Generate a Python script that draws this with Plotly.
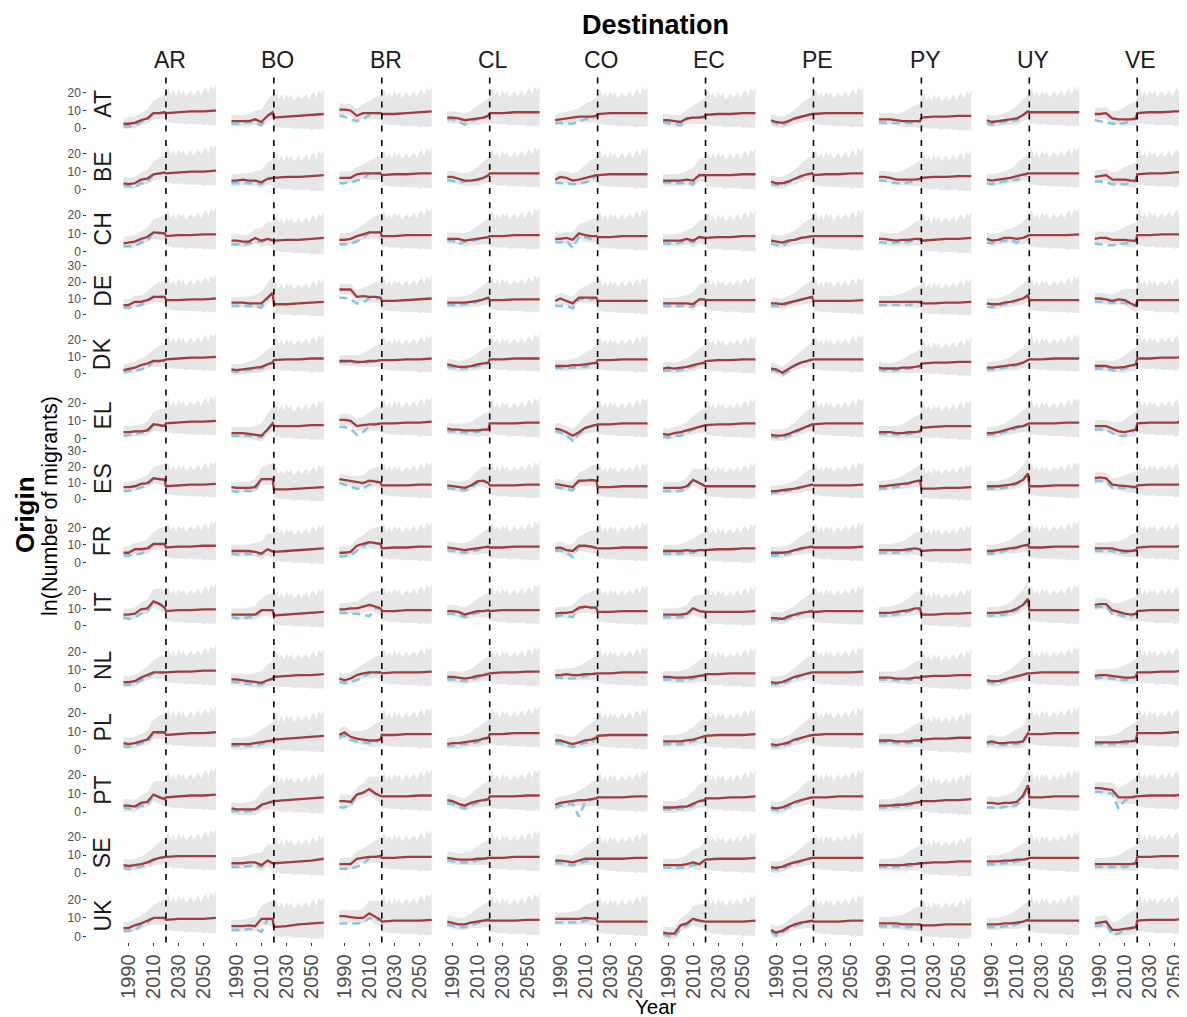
"""Observed vs fitted bilateral migration flows, Europe -> South America.

Facet grid: one row per origin, one column per destination; grey band is
the prediction interval, dashed vertical line marks the start of the
forecast period.
"""
import plotly.graph_objects as go

ORIGINS = ["AT", "BE", "CH", "DE", "DK", "EL", "ES", "FR", "IT", "NL", "PL", "PT", "SE", "UK"]
DESTINATIONS = ["AR", "BO", "BR", "CL", "CO", "EC", "PE", "PY", "UY", "VE"]

FIT_YEARS = [1986, 1990, 1995, 2000, 2005, 2010, 2015, 2019, 2020, 2030, 2040, 2050, 2060]
OBS_YEARS = [1986, 1990, 1995, 2000, 2005, 2010, 2015, 2019]
FORECAST_START = 2020
X_TICKS = [1990, 2010, 2030, 2050]

# interval band: half-widths around the fit up to 2019
BAND_UP = [3.5, 3.5, 3.5, 4, 5, 7, 9, 10]
BAND_DN = [3, 3, 3, 3, 3, 3.5, 3.5, 4]
# forecast part of the band, relative to each panel's 2040 level (spiky edge)
BAND_FUT_YEARS = [2020, 2022, 2024, 2026, 2028, 2030, 2032, 2034, 2036, 2038, 2040,
                  2042, 2044, 2046, 2048, 2050, 2052, 2054, 2056, 2058, 2060]
BAND_FUT_UP = [11, 13.5, 9, 12, 8.5, 12.5, 10, 12, 8.5, 10, 12,
               9, 11, 12.5, 9, 12, 13.5, 10, 14.5, 12.5, 15]
BAND_FUT_DN = [6, 6.5, 6, 7, 6.5, 7, 6.5, 7, 7.5, 7, 7,
               7.5, 7, 7.5, 7, 8, 7.5, 7.5, 8, 7.5, 8]

# fitted (red) and observed (blue) ln(migrants), one list per destination
AT_FIT = [[2.5, 2.5, 3, 4.5, 5.5, 8.5, 8.5, 9, 8.5, 9, 9.5, 9.5, 10],
          [4, 4, 4, 4, 5, 3.5, 7, 9, 6, 6.5, 7, 7.5, 8],
          [10.5, 10.5, 10, 7, 8.5, 8.5, 8.5, 8.5, 8, 8, 8.5, 9, 9.5],
          [6, 6, 5.5, 4.5, 5, 5.5, 6, 7, 8.5, 8.5, 9, 9, 9],
          [4.5, 5, 5.5, 6, 6.5, 6.5, 6.5, 7, 8, 8.5, 8.5, 8.5, 8.5],
          [4.5, 4.5, 4, 3.5, 5.5, 6, 6, 6.5, 7.5, 8, 8, 8.5, 8.5],
          [4.5, 3.5, 3, 4, 5.5, 6.5, 7.5, 8, 8, 8.5, 8.5, 8.5, 8.5],
          [5, 5, 5, 4.5, 4, 4, 4, 4, 6, 6.5, 6.5, 7, 7],
          [4.5, 3.5, 4, 4.5, 5, 5.5, 7.5, 9.5, 9, 9, 9, 9, 9],
          [8, 8, 8.5, 5.5, 5, 5, 5, 5.5, 8.5, 9, 9, 9.5, 9.5]]
AT_OBS = [[1, 1, 1.5, 3.5, 4.5, 8.5, 8.5, 9], [2.5, 2.5, 3, 3.5, 3, 2, 7, 9],
          [7, 6.5, 5, 4, 5, 7.5, 8.5, 8.5], [5, 5, 4, 2, 4, 5, 6, 7],
          [3, 3, 2.5, 2.5, 4, 5, 5, 7], [3.5, 3, 3, 1.5, 5, 6, 6, 6.5],
          [4, 2.5, 1.5, 3.5, 5, 6.5, 7.5, 8], [3.5, 3, 3, 3, 3, 3, 3, 4],
          [3, 2, 3, 3.5, 4, 4.5, 7.5, 9.5], [4.5, 4, 3.5, 2.5, 2.5, 3, 4, 5.5]]

BE_FIT = [[3.5, 3, 3.5, 5.5, 6, 8.5, 9, 9.5, 9, 9.5, 10, 10, 10.5],
          [5, 5, 5.5, 5, 5, 4, 6, 6.5, 6.5, 7, 7, 7.5, 8],
          [6.5, 6.5, 6.5, 8.5, 9, 9, 9, 9, 8, 8.5, 8.5, 9, 9],
          [7, 7, 6, 5, 5, 5.5, 6.5, 8, 9, 9, 9, 9, 9],
          [5.5, 7, 6.5, 5, 5.5, 6.5, 7.5, 8, 8, 8.5, 8.5, 8.5, 8.5],
          [5, 5, 5, 5, 5.5, 5, 8, 8, 8, 8, 8, 8.5, 8.5],
          [4.5, 3.5, 3.5, 4.5, 6, 7.5, 8.5, 9, 8, 8.5, 8.5, 9, 9],
          [7, 7, 6.5, 5.5, 5.5, 5.5, 5.5, 6, 6.5, 7, 7, 7.5, 7.5],
          [5.5, 5, 5.5, 6, 6.5, 7.5, 8.5, 9, 9, 9, 9, 9, 9],
          [7, 7.5, 8, 5.5, 5.5, 5.5, 5, 5, 8.5, 9, 9, 9.5, 10]]
BE_OBS = [[2, 2, 1.5, 3.5, 4, 8.5, 9, 9.5], [3.5, 3.5, 3.5, 3.5, 3.5, 3, 6, 6.5],
          [3.5, 3.5, 4, 5, 6, 9, 9, 9], [5.5, 5, 4, 4.5, 5, 5.5, 6.5, 8],
          [4, 3.5, 3.5, 3, 3.5, 4, 5, 8], [4, 4, 3.5, 3.5, 4, 3, 8, 8],
          [3, 2.5, 2.5, 4, 5.5, 7, 8.5, 9], [5, 5, 4, 3.5, 3.5, 4, 4.5, 6],
          [3.5, 3, 4, 4.5, 5, 5.5, 7, 9], [4.5, 4.5, 4, 3, 3, 3, 3.5, 5]]

CH_FIT = [[4.5, 5, 5.5, 7, 8, 10.5, 10, 10, 8.5, 9, 9, 9.5, 9.5],
          [6, 6, 5.5, 5.5, 7.5, 6, 7, 6, 6, 6.5, 6.5, 7, 7.5],
          [6.5, 6.5, 7, 8.5, 9.5, 10.5, 10.5, 10.5, 8.5, 8.5, 9, 9, 9],
          [7, 7, 7, 6, 6.5, 7, 7.5, 8, 8.5, 8.5, 9, 9, 9],
          [7, 7, 7.5, 6.5, 10, 9, 8.5, 8.5, 8, 8, 8.5, 8.5, 8.5],
          [6, 6, 6, 6, 7, 6, 8, 7.5, 7.5, 8, 8, 8.5, 8.5],
          [6, 5.5, 5, 6, 6.5, 7.5, 8, 8.5, 8.5, 8.5, 8.5, 8.5, 8.5],
          [7, 7, 6.5, 6, 6.5, 6.5, 7, 7, 6, 6.5, 7, 7, 7.5],
          [7, 6, 6.5, 7.5, 7.5, 7, 7.5, 9, 9, 9, 9, 9, 9.5],
          [7, 7.5, 7.5, 6.5, 6.5, 6.5, 6, 6, 9, 9, 9.5, 9.5, 9.5]]
CH_OBS = [[3, 3, 3, 5, 6, 10.5, 10, 10], [4, 4, 4, 4.5, 5.5, 5.5, 6.5, 6],
          [4, 4, 4.5, 5.5, 7.5, 10.5, 10.5, 10.5], [6, 6, 4, 5.5, 6, 6.5, 7.5, 8],
          [5.5, 5, 6, 2, 8, 8, 7, 8.5], [4.5, 4.5, 4.5, 5, 6, 5, 7.5, 7.5],
          [4.5, 4, 3, 5.5, 6.5, 7.5, 8, 8.5], [5, 5, 4.5, 5, 5, 5.5, 6, 7],
          [5, 4.5, 5.5, 6, 6.5, 5, 7, 9], [4.5, 4, 3.5, 3.5, 4, 4.5, 5, 6]]

DE_FIT = [[6, 6, 8, 8, 9, 11, 11, 11, 9, 9, 9.5, 9.5, 10],
          [7.5, 7.5, 7.5, 7, 7, 7, 10.5, 13.5, 6.5, 6.5, 7, 7.5, 8],
          [15.5, 15.5, 15.5, 11, 11.5, 11, 11, 10.5, 8.5, 8.5, 9, 9.5, 10],
          [7.5, 7.5, 7.5, 7.5, 8, 8.5, 9.5, 10.5, 9, 9, 9.5, 9.5, 9.5],
          [8.5, 10, 8.5, 7, 10.5, 10.5, 10.5, 10.5, 8.5, 8.5, 8.5, 8.5, 8.5],
          [7, 7, 7, 7, 7, 6.5, 9.5, 9.5, 9, 9, 9, 9, 9],
          [7, 7, 6.5, 7.5, 8.5, 9.5, 10.5, 11, 8.5, 8.5, 8.5, 8.5, 9],
          [8, 8, 8, 8, 8, 8, 8, 8, 7, 7, 7.5, 7.5, 8],
          [7, 6.5, 6.5, 7.5, 8, 9, 10, 12, 9, 9, 9, 9, 9],
          [10, 10, 9.5, 8.5, 9.5, 9, 7, 5.5, 9, 9, 9, 9, 9]]
DE_OBS = [[4.5, 4.5, 5, 6, 8, 11, 11, 11], [5.5, 5.5, 5.5, 5.5, 5.5, 4.5, 10, 13.5],
          [10.5, 10.5, 9.5, 7, 7.5, 10, 10, 10.5], [6, 6, 6, 6.5, 7, 8, 9.5, 10.5],
          [5.5, 5.5, 5.5, 4, 9.5, 10, 9.5, 10.5], [5.5, 5.5, 5.5, 5.5, 6, 5, 9, 9.5],
          [5.5, 5.5, 5.5, 7, 8, 9.5, 10.5, 11], [6, 6, 6, 6, 6, 6, 6.5, 8],
          [5, 4.5, 5.5, 6.5, 7, 8.5, 10, 12], [8, 8, 8, 7.5, 7.5, 7.5, 6, 5.5]]

DK_FIT = [[2, 2.5, 3.5, 5, 6, 7.5, 7.5, 8, 8.5, 9, 9.5, 9.5, 10],
          [2.5, 2, 2.5, 3, 3.5, 4, 5.5, 6.5, 8, 8.5, 8.5, 9, 9],
          [7.5, 7.5, 7.5, 7, 7, 7.5, 7.5, 8, 8, 8, 8.5, 8.5, 9],
          [5.5, 5, 4, 4, 4.5, 5.5, 6, 6.5, 8.5, 8.5, 9, 9, 9],
          [4.5, 4.5, 4.5, 5, 5, 5.5, 6, 6.5, 8, 8, 8.5, 8.5, 8.5],
          [3, 3.5, 3, 3.5, 4, 5, 6, 6.5, 7.5, 8, 8, 8.5, 8.5],
          [3, 2.5, 0.5, 3, 5, 6.5, 7.5, 8.5, 8.5, 8.5, 8.5, 8.5, 8.5],
          [3.5, 3, 3, 3, 3.5, 3.5, 4, 4.5, 6, 6.5, 6.5, 7, 7],
          [3.5, 3.5, 4, 4.5, 5, 5.5, 6.5, 8, 8.5, 8.5, 9, 9, 9],
          [4.5, 4.5, 4.5, 3.5, 3.5, 4, 5, 5.5, 9, 9, 9.5, 9.5, 10]]
DK_OBS = [[1, 1.5, 1.5, 2.5, 3.5, 7.5, 7.5, 8], [1.5, 1, 1.5, 2, 2.5, 3, 5, 6.5],
          [7, 7, 7, 6.5, 6.5, 7, 7.5, 8], [4, 4, 3, 3, 3.5, 4.5, 5, 6.5],
          [3.5, 3.5, 3.5, 3.5, 4, 4, 5, 6.5], [1.5, 2, 1.5, 2, 3, 4, 5.5, 6.5],
          [2, 1.5, -1, 2, 4.5, 6.5, 7.5, 8.5], [2.5, 2, 2, 2, 2.5, 3, 3.5, 4.5],
          [2.5, 2.5, 3, 3.5, 4, 5, 6.5, 8], [3, 3, 3, 2, 2, 3, 4, 5.5]]

EL_FIT = [[3.5, 3.5, 4, 4, 4.5, 8, 7.5, 7, 8.5, 9, 9.5, 9.5, 10],
          [3, 3, 3, 2.5, 2, 1.5, 5, 8.5, 7, 7, 7, 7.5, 7.5],
          [10.5, 10.5, 10, 7, 7.5, 8, 8, 8.5, 8.5, 8.5, 9, 9, 9.5],
          [5.5, 5, 5, 4.5, 4.5, 4.5, 5, 5, 8.5, 8.5, 8.5, 9, 9],
          [5.5, 5, 3.5, 1.5, 3.5, 6, 7, 7.5, 8, 8, 8.5, 8.5, 8.5],
          [2.5, 2, 3, 3.5, 4.5, 5.5, 6.5, 7, 7.5, 8, 8, 8.5, 8.5],
          [2, 1.5, 1.5, 2.5, 4, 5.5, 7, 8, 8, 8.5, 8.5, 8.5, 8.5],
          [3.5, 3.5, 3.5, 3, 3, 3.5, 3.5, 4, 6, 6.5, 7, 7, 7],
          [3, 3, 3.5, 4.5, 5.5, 6.5, 7, 8, 8.5, 8.5, 8.5, 9, 9],
          [7, 7, 7, 5.5, 4, 3.5, 4.5, 5, 8.5, 9, 9, 9, 9.5]]
EL_OBS = [[1.5, 2, 2, 3.5, 3, 8, 7.5, 7], [1.5, 1.5, 1.5, 1.5, 1, 0.5, 5, 8.5],
          [6.5, 6.5, 5.5, 2, 3.5, 7, 8, 8.5], [4, 4, 3.5, 3.5, 3.5, 3.5, 4.5, 5],
          [4, 3.5, 2, -1.5, 2.5, 5.5, 7, 7.5], [1, 0.5, 1.5, 1.5, 3.5, 5, 6.5, 7],
          [1, 0.5, 0.5, 1.5, 3, 5, 6.5, 8], [2.5, 2.5, 2.5, 2, 2, 2.5, 3, 4],
          [2, 2, 2.5, 3.5, 4.5, 6, 7, 8], [5, 5, 5, 3, 1.5, 1.5, 3.5, 5]]

ES_FIT = [[7.5, 7.5, 8, 9.5, 10, 13, 12.5, 12, 8, 8.5, 9, 9, 9.5],
          [7.5, 7, 7, 7, 7.5, 12.5, 12.5, 12.5, 6, 6, 6.5, 7, 7.5],
          [12.5, 12, 11, 10.5, 10, 11.5, 11, 10.5, 8.5, 8.5, 8.5, 9, 9],
          [8.5, 8, 7.5, 7, 8.5, 11, 11.5, 10, 8.5, 8.5, 8.5, 9, 9],
          [9.5, 9, 8, 7.5, 11.5, 11.5, 12, 11.5, 7.5, 7.5, 8, 8, 8],
          [7, 7, 7, 7, 8, 12, 10, 8.5, 8, 8, 8, 8, 8],
          [5, 5, 5.5, 6, 6.5, 7.5, 8.5, 9, 8.5, 8.5, 8.5, 8.5, 9],
          [8, 8, 8.5, 9, 9.5, 10, 11, 11.5, 6.5, 6.5, 7, 7, 7.5],
          [8, 8, 8, 8.5, 9, 10, 12, 16, 8, 8, 8.5, 8.5, 8.5],
          [13, 13.5, 13, 9, 8.5, 8, 7.5, 7.5, 8.5, 9, 9, 9, 9]]
ES_OBS = [[5, 5, 6, 7.5, 8.5, 13, 12.5, 12], [5, 4.5, 5.5, 5, 5, 12.5, 12.5, 12.5],
          [10, 9, 8, 6.5, 6.5, 9, 10, 10.5], [7, 6.5, 6, 5.5, 7, 10, 11, 10],
          [7.5, 7, 6, 5.5, 11, 11.5, 11.5, 11.5], [5, 5, 5, 5, 6.5, 12, 10, 8.5],
          [3.5, 4, 4.5, 5, 6, 7, 8.5, 9], [6.5, 6.5, 7, 7.5, 8.5, 9.5, 11, 11.5],
          [6.5, 6.5, 6.5, 7, 8, 9.5, 12, 16], [11, 11.5, 11, 7, 7, 7, 7, 7.5]]

FR_FIT = [[5.5, 5.5, 7.5, 7.5, 8, 10.5, 10.5, 10.5, 8.5, 9, 9, 9.5, 9.5],
          [6.5, 6.5, 6.5, 6.5, 6, 5, 7.5, 6, 6, 6.5, 7, 7.5, 8],
          [5.5, 5.5, 6, 9.5, 10.5, 11.5, 11, 10.5, 8, 8.5, 8.5, 9, 9],
          [8.5, 8, 7.5, 7, 7.5, 8, 8.5, 9, 8.5, 8.5, 9, 9, 9],
          [8, 8.5, 7, 6.5, 9.5, 9.5, 9, 8.5, 8, 8, 8.5, 8.5, 8.5],
          [6.5, 6.5, 6.5, 6.5, 7, 6.5, 7, 7, 7, 7.5, 7.5, 8, 8],
          [5.5, 5.5, 5.5, 6, 7, 8, 8.5, 9, 8.5, 8.5, 8.5, 8.5, 9],
          [7, 7, 7, 7, 7, 7.5, 8, 7.5, 6.5, 7, 7, 7, 7.5],
          [6.5, 6.5, 7, 7.5, 8, 8.5, 9.5, 10, 8.5, 8.5, 9, 9, 9],
          [8, 8, 8, 8, 7, 6.5, 6.5, 7, 8.5, 9, 9, 9, 9.5]]
FR_OBS = [[4, 4, 4.5, 5, 6.5, 10.5, 10.5, 10.5], [5, 4.5, 4.5, 5, 4.5, 4.5, 7, 6],
          [3.5, 3.5, 4, 6.5, 8.5, 11.5, 11, 10.5], [7, 6.5, 6, 5.5, 6.5, 7, 8, 9],
          [6.5, 7, 5.5, 3, 9, 9, 9, 8.5], [5, 5, 5, 5, 5.5, 5.5, 6.5, 7],
          [4, 4, 4, 5, 6, 7.5, 8.5, 9], [5.5, 5.5, 5.5, 5.5, 6, 6.5, 7.5, 7.5],
          [5, 5, 5.5, 6.5, 7, 8, 9, 10], [6.5, 6.5, 6.5, 6.5, 5.5, 5.5, 6, 7]]

IT_FIT = [[6.5, 6.5, 7, 9.5, 10, 14, 12.5, 10.5, 8.5, 9, 9, 9.5, 9.5],
          [6.5, 6.5, 6.5, 6.5, 6.5, 9, 9, 9, 6, 6.5, 7, 7.5, 8],
          [9.5, 9.5, 10, 10, 11, 12, 11, 10, 8.5, 8.5, 9, 9, 9],
          [8.5, 8.5, 8, 6.5, 7.5, 8.5, 8.5, 9, 8.5, 9, 9, 9, 9],
          [7, 7.5, 7.5, 8, 10.5, 11, 10.5, 10.5, 8, 8, 8.5, 8.5, 8.5],
          [6.5, 6.5, 6.5, 6.5, 7, 10, 8.5, 8, 8, 8, 8, 8, 8.5],
          [4.5, 4.5, 4, 5.5, 6.5, 7.5, 8, 8.5, 8, 8.5, 8.5, 8.5, 8.5],
          [7.5, 7.5, 7.5, 8, 8.5, 9, 10, 10, 6.5, 6.5, 7, 7, 7.5],
          [7.5, 7.5, 7.5, 8, 8.5, 10, 12, 15.5, 9, 9, 9, 9, 9],
          [12, 12.5, 12.5, 9, 8, 7, 6.5, 7, 8.5, 9, 9, 9, 9]]
IT_OBS = [[5, 4, 5, 7, 8, 14, 12.5, 10.5], [5, 4.5, 4.5, 5, 5, 9, 9, 9],
          [7.5, 7.5, 7, 7, 6.5, 5.5, 10, 10], [7, 7, 6.5, 5, 6.5, 7.5, 8, 9],
          [5.5, 6, 6, 5, 10, 10.5, 10.5, 10.5], [5, 5, 5, 5, 6, 10, 8.5, 8],
          [3.5, 3.5, 3, 4.5, 5.5, 7, 8, 8.5], [6, 6, 6, 6.5, 7.5, 8.5, 9.5, 10],
          [6, 6, 6, 6.5, 7.5, 9, 12, 15.5], [10.5, 11, 11, 7, 6.5, 5.5, 5.5, 7]]

NL_FIT = [[3, 3, 3.5, 5.5, 7, 8.5, 8.5, 8.5, 8.5, 9, 9, 9.5, 9.5],
          [4.5, 4.5, 4, 3.5, 3, 2.5, 4, 5, 6, 6.5, 7, 7, 7.5],
          [5, 4, 5, 7, 8, 8.5, 8.5, 8.5, 8, 8.5, 8.5, 8.5, 9],
          [6, 6, 5.5, 5, 5.5, 6.5, 7, 7.5, 8, 8.5, 8.5, 9, 9],
          [7, 7, 7.5, 7, 7, 7.5, 7.5, 8, 8, 8, 8.5, 8.5, 8.5],
          [6, 6, 5.5, 5.5, 5.5, 6, 6.5, 7, 7.5, 7.5, 8, 8, 8],
          [3, 2.5, 3, 4.5, 6, 7, 8, 8.5, 8.5, 8.5, 8.5, 8.5, 9],
          [5.5, 5.5, 5.5, 5, 5, 5, 5.5, 5.5, 6, 6.5, 6.5, 7, 7],
          [4, 3.5, 3.5, 4.5, 5.5, 6.5, 7.5, 8, 8, 8.5, 8.5, 8.5, 8.5],
          [6.5, 7, 7, 6.5, 6, 5.5, 5.5, 6, 8.5, 8.5, 9, 9, 9.5]]
NL_OBS = [[1.5, 1.5, 2, 4, 5.5, 8, 8.5, 8.5], [3, 3, 2.5, 2, 1.5, 1.5, 3.5, 5],
          [3, 2.5, 3, 4, 6, 8, 8.5, 8.5], [4.5, 4.5, 4, 3.5, 4, 5.5, 6.5, 7.5],
          [5.5, 5.5, 5, 5, 5.5, 6.5, 7, 8], [4.5, 4.5, 4, 4, 4, 5, 6, 7],
          [2, 1.5, 2, 3.5, 5, 6.5, 8, 8.5], [4.5, 4.5, 4.5, 4, 4, 4, 5, 5.5],
          [3, 2.5, 2.5, 3.5, 4.5, 6, 7.5, 8], [5, 5.5, 5.5, 5, 4.5, 4, 4.5, 6]]

PL_FIT = [[3.5, 3, 3.5, 4.5, 5.5, 9.5, 9.5, 9.5, 8, 8.5, 9, 9, 9.5],
          [3, 3, 3, 3, 3.5, 4, 4.5, 5, 5.5, 6, 6.5, 7, 7.5],
          [8, 9.5, 7, 6, 5.5, 5, 5, 5.5, 8, 8, 8.5, 8.5, 8.5],
          [3, 3.5, 3.5, 4, 4.5, 5, 6, 6.5, 8.5, 8.5, 9, 9, 9],
          [5, 5, 4, 3, 4, 5, 5.5, 6.5, 7.5, 8, 8, 8, 8],
          [4.5, 4.5, 4.5, 4.5, 5, 5.5, 6.5, 7, 7.5, 8, 8, 8, 8.5],
          [3, 2.5, 3, 4, 5.5, 6.5, 7.5, 8, 8, 8.5, 8.5, 8.5, 8.5],
          [5, 5, 5, 4.5, 4.5, 4.5, 5, 5, 5.5, 6, 6, 6.5, 6.5],
          [4, 4.5, 3.5, 3.5, 4, 4, 4.5, 9, 8.5, 8.5, 9, 9, 9],
          [4, 4, 4, 4, 4, 4.5, 4.5, 5, 9, 9, 9, 9.5, 9.5]]
PL_OBS = [[2, 1.5, 2.5, 3.5, 4, 9, 9, 9.5], [2, 2, 2, 2, 2, 3, 4, 5],
          [6.5, 8, 5.5, 4.5, 4, 3.5, 4, 5.5], [2, 2, 2.5, 3, 3.5, 4, 5, 6.5],
          [3.5, 3.5, 2.5, 1.5, 2.5, 4, 3.5, 6.5], [3, 3, 3, 3, 3.5, 4.5, 5.5, 7],
          [2, 1.5, 2, 3, 4.5, 6, 7.5, 8], [4, 4, 4, 3.5, 3.5, 3.5, 4, 5],
          [3, 3.5, 2.5, 2.5, 3, 3, 4, 9], [3, 3, 3, 3, 3, 3.5, 3.5, 5]]

PT_FIT = [[3.5, 3.5, 3, 5, 5.5, 9.5, 8, 7, 8, 8.5, 9, 9, 9.5],
          [2, 1.5, 1.5, 1.5, 1.5, 4, 5, 5.5, 6, 6.5, 7, 7.5, 8],
          [6, 6, 5.5, 9.5, 10.5, 12.5, 10, 8.5, 8.5, 8.5, 8.5, 9, 9],
          [6.5, 6, 4.5, 3.5, 5, 6, 6.5, 7, 8.5, 8.5, 8.5, 9, 9],
          [4, 5, 5.5, 6, 6.5, 6.5, 7, 7.5, 8, 8, 8, 8.5, 8.5],
          [2.5, 2.5, 2.5, 3, 3, 4.5, 6, 6.5, 7.5, 7.5, 8, 8, 8.5],
          [2.5, 2, 2.5, 4, 5.5, 6.5, 7.5, 8, 8, 8, 8.5, 8.5, 8.5],
          [3.5, 3.5, 3.5, 4, 4, 4.5, 5, 5.5, 6, 6, 6.5, 6.5, 7],
          [5, 5, 4.5, 5, 5, 5.5, 9, 14.5, 8, 8, 8.5, 8.5, 8.5],
          [13, 13, 12.5, 12, 8, 8, 8, 8.5, 8.5, 9, 9, 9, 9.5]]
PT_OBS = [[2.5, 2, 2, 3.5, 3.5, 9.5, 8, 7], [0.5, 0.5, 0, 0.5, 0.5, 3.5, 5, 5.5],
          [2.5, 2.5, 3.5, 9.5, 10.5, 12.5, 10, 8.5], [5, 4.5, 3, 2, 3.5, 5, 6, 7],
          [2.5, 3.5, 4, 4.5, -2.5, 5.5, 6.5, 7.5], [1.5, 1.5, 1.5, 2, 2, 3.5, 5.5, 6.5],
          [1.5, 1, 1.5, 3, 4.5, 6, 7.5, 8], [2.5, 2.5, 2.5, 3, 3, 3.5, 4.5, 5.5],
          [2.5, 2.5, 2, 3, 3, 4, 8, 14.5], [11, 11, 10.5, 10, 2, 6.5, 7, 8.5]]

SE_FIT = [[4.5, 4, 4.5, 5, 6, 7.5, 8.5, 9, 9, 9.5, 9.5, 9.5, 9.5],
          [5.5, 5.5, 5.5, 6, 6, 4.5, 7, 5.5, 5.5, 6, 6.5, 7, 8],
          [5, 5, 5, 8, 8.5, 9, 9, 9.5, 8.5, 8.5, 9, 9, 9],
          [8.5, 8, 7.5, 7.5, 7.5, 8, 8, 8.5, 8.5, 8.5, 9, 9, 9],
          [7, 7, 6.5, 6, 7, 8, 8, 8, 8, 8, 8, 8.5, 8.5],
          [4.5, 4.5, 4.5, 4.5, 5, 6, 5, 7, 7.5, 8, 8, 8, 8.5],
          [3.5, 3, 3.5, 5, 6, 7, 8, 8.5, 8.5, 8.5, 8.5, 8.5, 8.5],
          [4.5, 4.5, 4.5, 4.5, 4.5, 5, 5, 5.5, 5.5, 6, 6, 6.5, 6.5],
          [6.5, 6.5, 6.5, 7, 7, 7.5, 7.5, 8, 8.5, 8.5, 8.5, 8.5, 8.5],
          [5, 5, 5, 5, 5, 5, 5, 5.5, 9, 9, 9.5, 9.5, 9.5]]
SE_OBS = [[3, 2.5, 3, 3.5, 5, 7, 8.5, 9], [3.5, 3.5, 3.5, 4, 4.5, 3.5, 7, 5.5],
          [2.5, 2.5, 2.5, 3.5, 5, 8.5, 9, 9.5], [7, 6.5, 6, 6, 6, 7, 7.5, 8.5],
          [5.5, 5.5, 5, 4.5, 5.5, 6.5, 7.5, 8], [3, 3, 3, 3, 3.5, 4.5, 4.5, 7],
          [2.5, 2, 2.5, 4, 5, 6.5, 8, 8.5], [3.5, 3.5, 3.5, 3.5, 3.5, 4, 4.5, 5.5],
          [5, 5, 5, 5.5, 5.5, 6.5, 7, 8], [3.5, 3.5, 3.5, 3.5, 3.5, 3.5, 3.5, 5.5]]

UK_FIT = [[4.5, 4.5, 6, 7, 8.5, 10, 10, 10, 9, 9.5, 9.5, 9.5, 10],
          [5.5, 5.5, 5.5, 6, 5.5, 9.5, 9.5, 9.5, 5, 5.5, 6.5, 7, 7.5],
          [11, 11, 10.5, 10, 10, 12.5, 10.5, 9, 8, 8.5, 8.5, 8.5, 9],
          [8, 7.5, 6.5, 6.5, 7.5, 8, 8.5, 9, 8.5, 8.5, 8.5, 9, 9],
          [9.5, 9.5, 9.5, 9.5, 9.5, 10, 9.5, 9.5, 8, 8, 8, 8, 8],
          [2, 1.5, 1.5, 6, 7, 9.5, 8.5, 8, 8, 8, 8, 8, 8.5],
          [3.5, 2, 3, 5, 6.5, 7.5, 8, 8.5, 8, 8, 8, 8.5, 8.5],
          [7, 7, 7, 7, 6.5, 6.5, 6.5, 6.5, 6, 6, 6.5, 6.5, 6.5],
          [6.5, 6.5, 6.5, 7, 7, 7.5, 8, 9, 8.5, 8.5, 8.5, 8.5, 8.5],
          [7, 7.5, 8, 3.5, 3.5, 4, 4.5, 5, 8.5, 9, 9, 9, 9.5]]
UK_OBS = [[3, 3, 3, 6, 7.5, 10, 10, 10], [3.5, 3.5, 3.5, 4, 4, 2.5, 9.5, 9.5],
          [7, 7, 7, 7, 7.5, 10, 9, 9], [6.5, 6, 5, 5, 6, 7, 8, 9],
          [7.5, 7.5, 7.5, 7.5, 7.5, 8.5, 9, 9.5], [1, 0.5, -0.5, 4, 6, 9, 8.5, 8],
          [2.5, 0.5, 2, 4, 5.5, 7, 8, 8.5], [5.5, 5.5, 5.5, 5.5, 5, 5, 5.5, 6.5],
          [5, 5, 5, 5.5, 5.5, 6.5, 7.5, 9], [5.5, 6, 6.5, 1, 1.5, 3, 4, 5]]

FIT = [AT_FIT, BE_FIT, CH_FIT, DE_FIT, DK_FIT, EL_FIT, ES_FIT, FR_FIT, IT_FIT,
       NL_FIT, PL_FIT, PT_FIT, SE_FIT, UK_FIT]
OBS = [AT_OBS, BE_OBS, CH_OBS, DE_OBS, DK_OBS, EL_OBS, ES_OBS, FR_OBS, IT_OBS,
       NL_OBS, PL_OBS, PT_OBS, SE_OBS, UK_OBS]

# free y scale per origin row (ggplot facet_grid(scales = "free_y"))
Y_LOW = [-1.9, -2.4, -2.5, -2.3, -4.5, -2.9, -4.2, -3.3, -2.6, -3.2, -3.1, -3.0, -3.8, -3.3]
Y_HIGH = [29.4, 28.3, 27.7, 31.5, 28.7, 28.7, 30.4, 28.3, 29.0, 28.4, 27.2, 27.0, 26.9, 26.8]

# --- page geometry, in pixels of the final 1187x1017 picture
OFF = 8                      # body margin of the html page
PW, PH = 1187 - OFF, 1017 - OFF
# the captured page comes out slightly squeezed vertically; undo that
V_SCALE, V_SHIFT = 0.9889, 5.7
X_LO, X_HI = 1982.3, 2063.7
PX_PER_YEAR = 1.25
COL_LEFT0, COL_PITCH = 117.1, 108.1
ROW_TOP0, ROW_PITCH, ROW_H = 75.7, 62.3, 55.3
Y_AXIS_PX = 84.5
TITLE_Y = 25                 # kept just below the top edge of the page
N_HIST = len(OBS_YEARS)
LEVEL_IDX = FIT_YEARS.index(2040)

FONT = "Liberation Sans, Arial, sans-serif"
GREY_BAND = "#E6E6E6"
RED = "#A23B3B"
BLUE = "#82C8E6"


def fx(px):
    return (px - OFF) / PW


def fy(py):
    return 1 - ((py - V_SHIFT) / V_SCALE - OFF) / PH


fig = go.Figure()
axes = {}
shapes = []
annotations = []
n_rows, n_cols = len(ORIGINS), len(DESTINATIONS)
x_edge = OFF + PW

for r, org in enumerate(ORIGINS):
    top = ROW_TOP0 + r * ROW_PITCH
    bottom = top + ROW_H
    for c, dst in enumerate(DESTINATIONS):
        n = r * n_cols + c + 1
        xa = "x" if n == 1 else f"x{n}"
        ya = "y" if n == 1 else f"y{n}"
        fit = FIT[r][c]
        obs = OBS[r][c]
        level = fit[LEVEL_IDX]
        up = [v + u for v, u in zip(fit[:N_HIST], BAND_UP)] + [level + u for u in BAND_FUT_UP]
        dn = [v - d for v, d in zip(fit[:N_HIST], BAND_DN)] + [level - d for d in BAND_FUT_DN]
        bx = FIT_YEARS[:N_HIST] + BAND_FUT_YEARS

        fig.add_trace(go.Scatter(
            x=bx + bx[::-1], y=up + dn[::-1],
            fill="toself", fillcolor=GREY_BAND, mode="lines",
            line=dict(width=0, color=GREY_BAND), hoverinfo="skip",
            showlegend=False, xaxis=xa, yaxis=ya))
        fig.add_trace(go.Scatter(
            x=OBS_YEARS, y=obs, mode="lines",
            line=dict(color=BLUE, width=2.6, dash="8px,5px"),
            showlegend=False, xaxis=xa, yaxis=ya))
        fig.add_trace(go.Scatter(
            x=FIT_YEARS, y=fit, mode="lines",
            line=dict(color=RED, width=2.3),
            showlegend=False, xaxis=xa, yaxis=ya))

        shapes.append(dict(type="line", xref=xa, yref=f"{ya} domain",
                           x0=FORECAST_START, x1=FORECAST_START, y0=0, y1=1,
                           line=dict(color="black", width=1.6, dash="6px,6px")))

        left = COL_LEFT0 + c * COL_PITCH
        right = left + (X_HI - X_LO) * PX_PER_YEAR
        x_hi = X_HI
        if right > x_edge:  # last column runs off the right edge
            right = x_edge
            x_hi = X_LO + (right - left) / PX_PER_YEAR
        last_row = r == n_rows - 1
        axes["xaxis" if n == 1 else f"xaxis{n}"] = dict(
            domain=[fx(left), fx(right)], range=[X_LO, x_hi], anchor=ya,
            tickvals=X_TICKS, showgrid=False, zeroline=False, showline=False,
            showticklabels=last_row, ticks="outside" if last_row else "",
            ticklen=3, tickcolor="#333333", tickangle=-90,
            ticklabeloverflow="allow",
            tickfont=dict(family=FONT, size=20, color="#4D4D4D"))
        first_col = c == 0
        yax = dict(
            domain=[fy(bottom), fy(top)], range=[Y_LOW[r], Y_HIGH[r]],
            tick0=0, dtick=10, showgrid=False, zeroline=False, showline=False,
            showticklabels=first_col, ticks="outside" if first_col else "",
            ticklen=3, tickcolor="#333333",
            tickfont=dict(family=FONT, size=12, color="#4D4D4D"))
        if first_col:
            yax.update(anchor="free", position=fx(Y_AXIS_PX))
        else:
            yax.update(anchor=xa)
        axes["yaxis" if n == 1 else f"yaxis{n}"] = yax

    annotations.append(dict(text=org, x=fx(101), y=fy(top + ROW_H / 2),
                            xref="paper", yref="paper", showarrow=False,
                            textangle=-90, xanchor="center", yanchor="middle",
                            font=dict(family=FONT, size=23, color="#1A1A1A")))

for c, dst in enumerate(DESTINATIONS):
    cx = COL_LEFT0 + c * COL_PITCH + (X_HI - X_LO) * PX_PER_YEAR / 2
    annotations.append(dict(text=dst, x=fx(cx), y=fy(60), xref="paper", yref="paper",
                            showarrow=False, xanchor="center", yanchor="middle",
                            font=dict(family=FONT, size=23, color="#1A1A1A")))

annotations += [
    dict(text="<b>Destination</b>", x=fx(655), y=fy(TITLE_Y), xref="paper", yref="paper",
         showarrow=False, xanchor="center", yanchor="middle",
         font=dict(family=FONT, size=27, color="black")),
    dict(text="Year", x=fx(655), y=fy(1005), xref="paper", yref="paper",
         showarrow=False, xanchor="center", yanchor="middle",
         font=dict(family=FONT, size=20.5, color="black")),
    dict(text="ln(Number of migrants)", x=fx(48), y=fy(505), xref="paper", yref="paper",
         showarrow=False, textangle=-90, xanchor="center", yanchor="middle",
         font=dict(family=FONT, size=21.5, color="black")),
    dict(text="<b>Origin</b>", x=fx(23), y=fy(513), xref="paper", yref="paper",
         showarrow=False, textangle=-90, xanchor="center", yanchor="middle",
         font=dict(family=FONT, size=26, color="black")),
]

fig.update_layout(
    width=PW, height=PH, autosize=False,
    margin=dict(l=0, r=0, t=0, b=0),
    paper_bgcolor="white", plot_bgcolor="white",
    showlegend=False, shapes=shapes, annotations=annotations,
    font=dict(family=FONT),
    **axes,
)

fig.write_html("out.html")
